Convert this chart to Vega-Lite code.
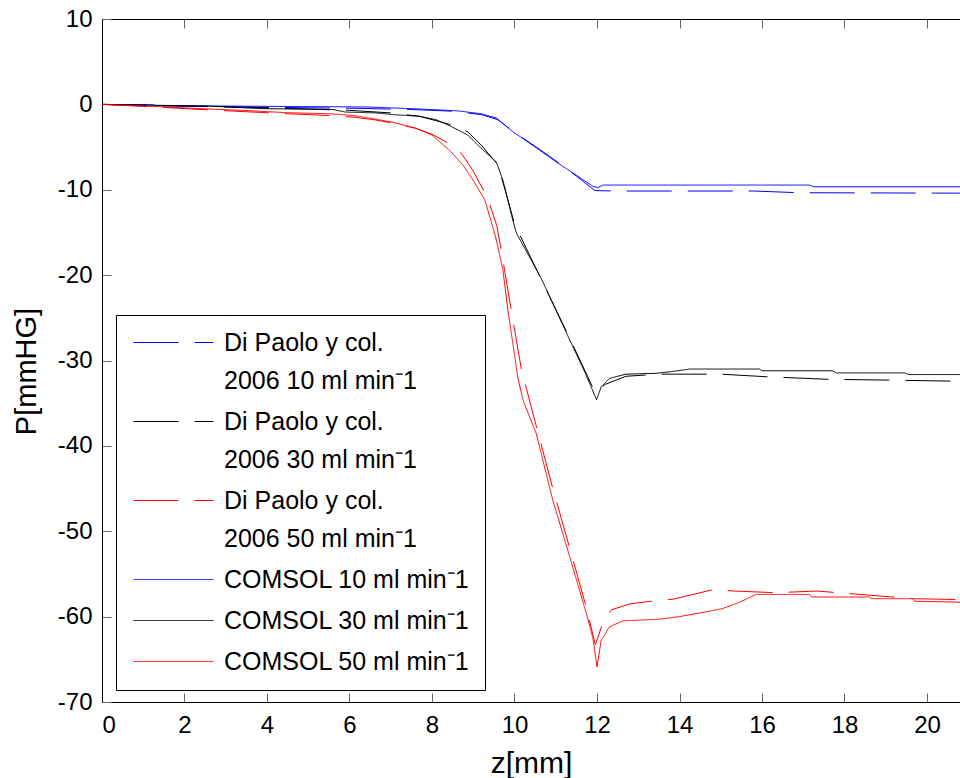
{
  "$schema": "https://vega.github.io/schema/vega-lite/v6.json",
  "width": 858,
  "height": 683,
  "autosize": {"type": "none"},
  "padding": {"left": 102, "top": 19, "right": 0, "bottom": 76},
  "background": "white",
  "config": {
    "view": {"stroke": null},
    "font": "Liberation Sans",
    "style": {"guide-label": {"lineHeight": 38}}
  },
  "datasets": {
    "curves": [
      {"s": "Di Paolo y col.|2006 10 ml min⁻1", "z": 0, "P": 0},
      {"s": "Di Paolo y col.|2006 10 ml min⁻1", "z": 2, "P": -0.2},
      {"s": "Di Paolo y col.|2006 10 ml min⁻1", "z": 4, "P": -0.35},
      {"s": "Di Paolo y col.|2006 10 ml min⁻1", "z": 6, "P": -0.45},
      {"s": "Di Paolo y col.|2006 10 ml min⁻1", "z": 7.5, "P": -0.6},
      {"s": "Di Paolo y col.|2006 10 ml min⁻1", "z": 8.5, "P": -0.8},
      {"s": "Di Paolo y col.|2006 10 ml min⁻1", "z": 9.2, "P": -1.2},
      {"s": "Di Paolo y col.|2006 10 ml min⁻1", "z": 9.6, "P": -1.8},
      {"s": "Di Paolo y col.|2006 10 ml min⁻1", "z": 10, "P": -3.3},
      {"s": "Di Paolo y col.|2006 10 ml min⁻1", "z": 10.5, "P": -4.9},
      {"s": "Di Paolo y col.|2006 10 ml min⁻1", "z": 11, "P": -6.6},
      {"s": "Di Paolo y col.|2006 10 ml min⁻1", "z": 11.5, "P": -8.4},
      {"s": "Di Paolo y col.|2006 10 ml min⁻1", "z": 11.95, "P": -10.1},
      {"s": "Di Paolo y col.|2006 10 ml min⁻1", "z": 12.5, "P": -10.15},
      {"s": "Di Paolo y col.|2006 10 ml min⁻1", "z": 14, "P": -10.15},
      {"s": "Di Paolo y col.|2006 10 ml min⁻1", "z": 15.8, "P": -10.15},
      {"s": "Di Paolo y col.|2006 10 ml min⁻1", "z": 16.9, "P": -10.35},
      {"s": "Di Paolo y col.|2006 10 ml min⁻1", "z": 21, "P": -10.4},

      {"s": "Di Paolo y col.|2006 30 ml min⁻1", "z": 0, "P": 0},
      {"s": "Di Paolo y col.|2006 30 ml min⁻1", "z": 2, "P": -0.2},
      {"s": "Di Paolo y col.|2006 30 ml min⁻1", "z": 4, "P": -0.4},
      {"s": "Di Paolo y col.|2006 30 ml min⁻1", "z": 6, "P": -0.7},
      {"s": "Di Paolo y col.|2006 30 ml min⁻1", "z": 7, "P": -1.0},
      {"s": "Di Paolo y col.|2006 30 ml min⁻1", "z": 7.7, "P": -1.4},
      {"s": "Di Paolo y col.|2006 30 ml min⁻1", "z": 8.4, "P": -2.3},
      {"s": "Di Paolo y col.|2006 30 ml min⁻1", "z": 8.86, "P": -3.2},
      {"s": "Di Paolo y col.|2006 30 ml min⁻1", "z": 9.2, "P": -4.8},
      {"s": "Di Paolo y col.|2006 30 ml min⁻1", "z": 9.6, "P": -7.1},
      {"s": "Di Paolo y col.|2006 30 ml min⁻1", "z": 9.8, "P": -10.5},
      {"s": "Di Paolo y col.|2006 30 ml min⁻1", "z": 10.0, "P": -14.0},
      {"s": "Di Paolo y col.|2006 30 ml min⁻1", "z": 10.6, "P": -20.0},
      {"s": "Di Paolo y col.|2006 30 ml min⁻1", "z": 11.3, "P": -27.0},
      {"s": "Di Paolo y col.|2006 30 ml min⁻1", "z": 11.95, "P": -33.7},
      {"s": "Di Paolo y col.|2006 30 ml min⁻1", "z": 12.2, "P": -32.8},
      {"s": "Di Paolo y col.|2006 30 ml min⁻1", "z": 12.7, "P": -31.85},
      {"s": "Di Paolo y col.|2006 30 ml min⁻1", "z": 13.5, "P": -31.6},
      {"s": "Di Paolo y col.|2006 30 ml min⁻1", "z": 15.0, "P": -31.6},
      {"s": "Di Paolo y col.|2006 30 ml min⁻1", "z": 16.1, "P": -31.9},
      {"s": "Di Paolo y col.|2006 30 ml min⁻1", "z": 17.6, "P": -32.2},
      {"s": "Di Paolo y col.|2006 30 ml min⁻1", "z": 19.1, "P": -32.3},
      {"s": "Di Paolo y col.|2006 30 ml min⁻1", "z": 21, "P": -32.45},

      {"s": "Di Paolo y col.|2006 50 ml min⁻1", "z": 0, "P": 0},
      {"s": "Di Paolo y col.|2006 50 ml min⁻1", "z": 1.3, "P": -0.3},
      {"s": "Di Paolo y col.|2006 50 ml min⁻1", "z": 2.4, "P": -0.6},
      {"s": "Di Paolo y col.|2006 50 ml min⁻1", "z": 4.5, "P": -1.1},
      {"s": "Di Paolo y col.|2006 50 ml min⁻1", "z": 5.5, "P": -1.3},
      {"s": "Di Paolo y col.|2006 50 ml min⁻1", "z": 6.1, "P": -1.5},
      {"s": "Di Paolo y col.|2006 50 ml min⁻1", "z": 6.6, "P": -1.8},
      {"s": "Di Paolo y col.|2006 50 ml min⁻1", "z": 7.05, "P": -2.2},
      {"s": "Di Paolo y col.|2006 50 ml min⁻1", "z": 7.6, "P": -2.8},
      {"s": "Di Paolo y col.|2006 50 ml min⁻1", "z": 8.0, "P": -3.5},
      {"s": "Di Paolo y col.|2006 50 ml min⁻1", "z": 8.38, "P": -4.5},
      {"s": "Di Paolo y col.|2006 50 ml min⁻1", "z": 8.72, "P": -5.8},
      {"s": "Di Paolo y col.|2006 50 ml min⁻1", "z": 9.0, "P": -7.8},
      {"s": "Di Paolo y col.|2006 50 ml min⁻1", "z": 9.35, "P": -11.0},
      {"s": "Di Paolo y col.|2006 50 ml min⁻1", "z": 9.57, "P": -14.2},
      {"s": "Di Paolo y col.|2006 50 ml min⁻1", "z": 9.68, "P": -17.1},
      {"s": "Di Paolo y col.|2006 50 ml min⁻1", "z": 9.9, "P": -23.5},
      {"s": "Di Paolo y col.|2006 50 ml min⁻1", "z": 10.17, "P": -31.1},
      {"s": "Di Paolo y col.|2006 50 ml min⁻1", "z": 10.49, "P": -37.0},
      {"s": "Di Paolo y col.|2006 50 ml min⁻1", "z": 10.93, "P": -45.0},
      {"s": "Di Paolo y col.|2006 50 ml min⁻1", "z": 11.34, "P": -52.0},
      {"s": "Di Paolo y col.|2006 50 ml min⁻1", "z": 11.74, "P": -58.9},
      {"s": "Di Paolo y col.|2006 50 ml min⁻1", "z": 11.96, "P": -63.3},
      {"s": "Di Paolo y col.|2006 50 ml min⁻1", "z": 12.15, "P": -60.6},
      {"s": "Di Paolo y col.|2006 50 ml min⁻1", "z": 12.35, "P": -59.2},
      {"s": "Di Paolo y col.|2006 50 ml min⁻1", "z": 12.8, "P": -58.5},
      {"s": "Di Paolo y col.|2006 50 ml min⁻1", "z": 13.4, "P": -58.15},
      {"s": "Di Paolo y col.|2006 50 ml min⁻1", "z": 13.84, "P": -57.96},
      {"s": "Di Paolo y col.|2006 50 ml min⁻1", "z": 14.85, "P": -56.8},
      {"s": "Di Paolo y col.|2006 50 ml min⁻1", "z": 15.3, "P": -57.0},
      {"s": "Di Paolo y col.|2006 50 ml min⁻1", "z": 16.35, "P": -57.2},
      {"s": "Di Paolo y col.|2006 50 ml min⁻1", "z": 17.32, "P": -57.0},
      {"s": "Di Paolo y col.|2006 50 ml min⁻1", "z": 17.84, "P": -57.2},
      {"s": "Di Paolo y col.|2006 50 ml min⁻1", "z": 18.25, "P": -57.35},
      {"s": "Di Paolo y col.|2006 50 ml min⁻1", "z": 19.67, "P": -57.9},
      {"s": "Di Paolo y col.|2006 50 ml min⁻1", "z": 20.75, "P": -58.0},
      {"s": "Di Paolo y col.|2006 50 ml min⁻1", "z": 21, "P": -58.1},

      {"s": "COMSOL 10 ml min⁻1", "z": 0, "P": 0},
      {"s": "COMSOL 10 ml min⁻1", "z": 1.25, "P": -0.05},
      {"s": "COMSOL 10 ml min⁻1", "z": 1.3, "P": -0.15},
      {"s": "COMSOL 10 ml min⁻1", "z": 6.4, "P": -0.3},
      {"s": "COMSOL 10 ml min⁻1", "z": 7.5, "P": -0.5},
      {"s": "COMSOL 10 ml min⁻1", "z": 8.6, "P": -0.75},
      {"s": "COMSOL 10 ml min⁻1", "z": 9.2, "P": -1.1},
      {"s": "COMSOL 10 ml min⁻1", "z": 9.56, "P": -1.6},
      {"s": "COMSOL 10 ml min⁻1", "z": 9.96, "P": -3.2},
      {"s": "COMSOL 10 ml min⁻1", "z": 10.5, "P": -5.0},
      {"s": "COMSOL 10 ml min⁻1", "z": 11, "P": -6.7},
      {"s": "COMSOL 10 ml min⁻1", "z": 11.5, "P": -8.3},
      {"s": "COMSOL 10 ml min⁻1", "z": 11.9, "P": -9.6},
      {"s": "COMSOL 10 ml min⁻1", "z": 12.02, "P": -9.75},
      {"s": "COMSOL 10 ml min⁻1", "z": 12.15, "P": -9.45},
      {"s": "COMSOL 10 ml min⁻1", "z": 17.15, "P": -9.45},
      {"s": "COMSOL 10 ml min⁻1", "z": 17.25, "P": -9.65},
      {"s": "COMSOL 10 ml min⁻1", "z": 21, "P": -9.65},

      {"s": "COMSOL 30 ml min⁻1", "z": 0, "P": 0},
      {"s": "COMSOL 30 ml min⁻1", "z": 1.23, "P": -0.1},
      {"s": "COMSOL 30 ml min⁻1", "z": 2.6, "P": -0.2},
      {"s": "COMSOL 30 ml min⁻1", "z": 3.9, "P": -0.5},
      {"s": "COMSOL 30 ml min⁻1", "z": 5.6, "P": -0.6},
      {"s": "COMSOL 30 ml min⁻1", "z": 5.9, "P": -0.9},
      {"s": "COMSOL 30 ml min⁻1", "z": 6.65, "P": -1.0},
      {"s": "COMSOL 30 ml min⁻1", "z": 7.05, "P": -1.2},
      {"s": "COMSOL 30 ml min⁻1", "z": 7.7, "P": -1.4},
      {"s": "COMSOL 30 ml min⁻1", "z": 8.1, "P": -1.8},
      {"s": "COMSOL 30 ml min⁻1", "z": 8.43, "P": -2.5},
      {"s": "COMSOL 30 ml min⁻1", "z": 8.87, "P": -3.6},
      {"s": "COMSOL 30 ml min⁻1", "z": 9.16, "P": -5.0},
      {"s": "COMSOL 30 ml min⁻1", "z": 9.56, "P": -6.75},
      {"s": "COMSOL 30 ml min⁻1", "z": 9.72, "P": -8.9},
      {"s": "COMSOL 30 ml min⁻1", "z": 9.84, "P": -11.2},
      {"s": "COMSOL 30 ml min⁻1", "z": 9.96, "P": -13.6},
      {"s": "COMSOL 30 ml min⁻1", "z": 10.05, "P": -15.1},
      {"s": "COMSOL 30 ml min⁻1", "z": 10.65, "P": -20.4},
      {"s": "COMSOL 30 ml min⁻1", "z": 11.34, "P": -27.6},
      {"s": "COMSOL 30 ml min⁻1", "z": 11.7, "P": -31.3},
      {"s": "COMSOL 30 ml min⁻1", "z": 11.99, "P": -34.6},
      {"s": "COMSOL 30 ml min⁻1", "z": 12.1, "P": -33.1},
      {"s": "COMSOL 30 ml min⁻1", "z": 12.3, "P": -32.1},
      {"s": "COMSOL 30 ml min⁻1", "z": 12.7, "P": -31.6},
      {"s": "COMSOL 30 ml min⁻1", "z": 13.44, "P": -31.5},
      {"s": "COMSOL 30 ml min⁻1", "z": 13.8, "P": -31.3},
      {"s": "COMSOL 30 ml min⁻1", "z": 14.25, "P": -31.0},
      {"s": "COMSOL 30 ml min⁻1", "z": 15.94, "P": -31.0},
      {"s": "COMSOL 30 ml min⁻1", "z": 16.0, "P": -31.2},
      {"s": "COMSOL 30 ml min⁻1", "z": 17.7, "P": -31.2},
      {"s": "COMSOL 30 ml min⁻1", "z": 17.8, "P": -31.45},
      {"s": "COMSOL 30 ml min⁻1", "z": 19.46, "P": -31.45},
      {"s": "COMSOL 30 ml min⁻1", "z": 19.55, "P": -31.65},
      {"s": "COMSOL 30 ml min⁻1", "z": 21, "P": -31.65},

      {"s": "COMSOL 50 ml min⁻1", "z": 0, "P": 0},
      {"s": "COMSOL 50 ml min⁻1", "z": 0.23, "P": -0.05},
      {"s": "COMSOL 50 ml min⁻1", "z": 1.28, "P": -0.25},
      {"s": "COMSOL 50 ml min⁻1", "z": 2.37, "P": -0.5},
      {"s": "COMSOL 50 ml min⁻1", "z": 3.4, "P": -0.7},
      {"s": "COMSOL 50 ml min⁻1", "z": 4.47, "P": -0.97},
      {"s": "COMSOL 50 ml min⁻1", "z": 5.52, "P": -1.1},
      {"s": "COMSOL 50 ml min⁻1", "z": 6.08, "P": -1.3},
      {"s": "COMSOL 50 ml min⁻1", "z": 6.57, "P": -1.67},
      {"s": "COMSOL 50 ml min⁻1", "z": 7.05, "P": -2.1},
      {"s": "COMSOL 50 ml min⁻1", "z": 7.62, "P": -2.8},
      {"s": "COMSOL 50 ml min⁻1", "z": 8.0, "P": -3.6},
      {"s": "COMSOL 50 ml min⁻1", "z": 8.43, "P": -5.4},
      {"s": "COMSOL 50 ml min⁻1", "z": 8.75, "P": -7.1},
      {"s": "COMSOL 50 ml min⁻1", "z": 9.0, "P": -8.9},
      {"s": "COMSOL 50 ml min⁻1", "z": 9.28, "P": -11.2},
      {"s": "COMSOL 50 ml min⁻1", "z": 9.47, "P": -14.3},
      {"s": "COMSOL 50 ml min⁻1", "z": 9.56, "P": -15.9},
      {"s": "COMSOL 50 ml min⁻1", "z": 9.72, "P": -19.4},
      {"s": "COMSOL 50 ml min⁻1", "z": 9.84, "P": -24.1},
      {"s": "COMSOL 50 ml min⁻1", "z": 9.96, "P": -28.0},
      {"s": "COMSOL 50 ml min⁻1", "z": 10.08, "P": -32.0},
      {"s": "COMSOL 50 ml min⁻1", "z": 10.21, "P": -34.7},
      {"s": "COMSOL 50 ml min⁻1", "z": 10.53, "P": -38.6},
      {"s": "COMSOL 50 ml min⁻1", "z": 10.93, "P": -46.4},
      {"s": "COMSOL 50 ml min⁻1", "z": 11.34, "P": -53.0},
      {"s": "COMSOL 50 ml min⁻1", "z": 11.74, "P": -59.6},
      {"s": "COMSOL 50 ml min⁻1", "z": 11.9, "P": -62.5},
      {"s": "COMSOL 50 ml min⁻1", "z": 12.0, "P": -65.9},
      {"s": "COMSOL 50 ml min⁻1", "z": 12.1, "P": -62.8},
      {"s": "COMSOL 50 ml min⁻1", "z": 12.3, "P": -61.2},
      {"s": "COMSOL 50 ml min⁻1", "z": 12.63, "P": -60.5},
      {"s": "COMSOL 50 ml min⁻1", "z": 13.52, "P": -60.3},
      {"s": "COMSOL 50 ml min⁻1", "z": 14.0, "P": -60.0},
      {"s": "COMSOL 50 ml min⁻1", "z": 14.57, "P": -59.5},
      {"s": "COMSOL 50 ml min⁻1", "z": 15.05, "P": -59.05},
      {"s": "COMSOL 50 ml min⁻1", "z": 15.46, "P": -58.3},
      {"s": "COMSOL 50 ml min⁻1", "z": 15.86, "P": -57.4},
      {"s": "COMSOL 50 ml min⁻1", "z": 17.16, "P": -57.4},
      {"s": "COMSOL 50 ml min⁻1", "z": 17.2, "P": -57.7},
      {"s": "COMSOL 50 ml min⁻1", "z": 18.61, "P": -57.7},
      {"s": "COMSOL 50 ml min⁻1", "z": 18.65, "P": -57.9},
      {"s": "COMSOL 50 ml min⁻1", "z": 19.66, "P": -57.9},
      {"s": "COMSOL 50 ml min⁻1", "z": 19.7, "P": -58.2},
      {"s": "COMSOL 50 ml min⁻1", "z": 20.75, "P": -58.3},
      {"s": "COMSOL 50 ml min⁻1", "z": 21, "P": -58.6}
    ]
  },
  "layer": [
    {
      "data": {"name": "curves"},
      "mark": {"type": "line", "strokeWidth": 1, "clip": true},
      "encoding": {
        "x": {
          "field": "z", "type": "quantitative",
          "scale": {"domain": [0, 20.8], "nice": false, "zero": false},
          "axis": {
            "orient": "bottom", "values": [0, 2, 4, 6, 8, 10, 12, 14, 16, 18, 20],
            "grid": false, "tickSize": -9, "tickColor": "#666666", "domainColor": "#000000",
            "labelFontSize": 24, "labelColor": "#000000", "labelPadding": 20, "labelFont": "Liberation Sans",
            "labelExpr": "'' + datum.value",
            "title": "z[mm]", "titleFontSize": 30, "titleFontWeight": "normal", "titleColor": "#000000",
            "titleFont": "Liberation Sans", "titlePadding": 11
          }
        },
        "y": {
          "field": "P", "type": "quantitative",
          "scale": {"domain": [-70, 10], "nice": false, "zero": false},
          "axis": {
            "orient": "left", "values": [-70, -60, -50, -40, -30, -20, -10, 0, 10],
            "grid": false, "tickSize": -9, "tickColor": "#666666", "domainColor": "#000000",
            "labelFontSize": 24, "labelColor": "#000000", "labelPadding": 19, "labelFont": "Liberation Sans",
            "labelExpr": "'' + datum.value",
            "title": "P[mmHG]", "titleFontSize": 29, "titleFontWeight": "normal", "titleColor": "#000000",
            "titleFont": "Liberation Sans", "titlePadding": 16, "titleY": 352
          }
        },
        "color": {
          "field": "s", "type": "nominal",
          "scale": {
            "domain": ["Di Paolo y col.|2006 10 ml min⁻1", "Di Paolo y col.|2006 30 ml min⁻1", "Di Paolo y col.|2006 50 ml min⁻1", "COMSOL 10 ml min⁻1", "COMSOL 30 ml min⁻1", "COMSOL 50 ml min⁻1"],
            "range": ["#0000ff", "#000000", "#ff0000", "#0000ff", "#000000", "#ff0000"]
          },
          "legend": {
            "orient": "none", "legendX": 14, "legendY": 296, "direction": "vertical",
            "title": null, "fillColor": "#ffffff", "strokeColor": "#000000", "padding": 15,
            "symbolType": "M-1,0H7", "symbolSize": 400, "symbolStrokeWidth": 1,
            "labelOffset": 68, "labelFontSize": 25, "labelFont": "Liberation Sans", "labelColor": "#000000",
            "labelLimit": 600, "labelExpr": "split(datum.label, '|')", "rowPadding": 15
          }
        },
        "strokeDash": {
          "field": "s", "type": "nominal",
          "scale": {
            "domain": ["Di Paolo y col.|2006 10 ml min⁻1", "Di Paolo y col.|2006 30 ml min⁻1", "Di Paolo y col.|2006 50 ml min⁻1", "COMSOL 10 ml min⁻1", "COMSOL 30 ml min⁻1", "COMSOL 50 ml min⁻1"],
            "range": [[45, 16], [45, 16], [45, 16], [1, 0], [1, 0], [1, 0]]
          },
          "legend": {
            "orient": "none", "legendX": 14, "legendY": 296, "direction": "vertical",
            "title": null, "fillColor": "#ffffff", "strokeColor": "#000000", "padding": 15,
            "symbolType": "M-1,0H7", "symbolSize": 400, "symbolStrokeWidth": 1,
            "labelOffset": 68, "labelFontSize": 25, "labelFont": "Liberation Sans", "labelColor": "#000000",
            "labelLimit": 600, "labelExpr": "split(datum.label, '|')", "rowPadding": 15
          }
        }
      }
    },
    {
      "data": {"values": [{"z": 0}]},
      "mark": {"type": "rule", "opacity": 0},
      "encoding": {
        "x": {
          "field": "z", "type": "quantitative",
          "axis": {
            "orient": "top", "values": [0, 2, 4, 6, 8, 10, 12, 14, 16, 18, 20],
            "grid": false, "labels": false, "title": null, "tickSize": -9,
            "tickColor": "#666666", "domainColor": "#000000"
          }
        }
      }
    }
  ],
  "resolve": {"axis": {"x": "independent"}}
}
